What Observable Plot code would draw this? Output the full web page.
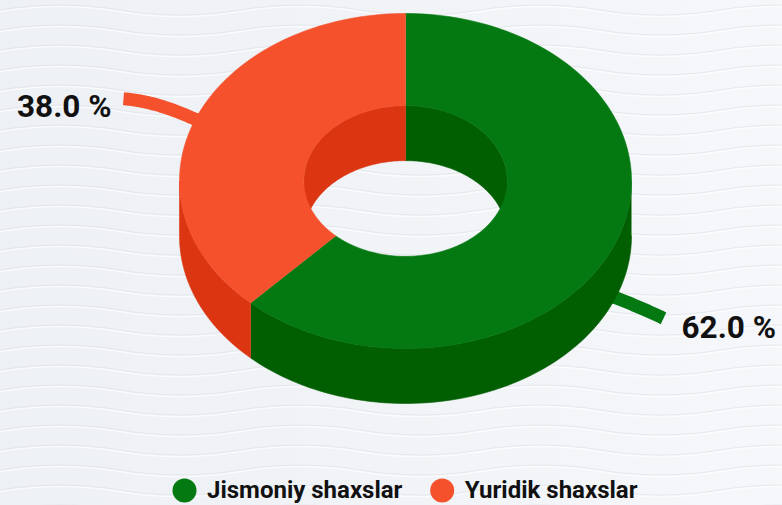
<!DOCTYPE html>
<html>
<head>
<meta charset="utf-8">
<script src="https://cdn.jsdelivr.net/npm/d3@7"></script>
<script src="https://cdn.jsdelivr.net/npm/@observablehq/plot@0.6"></script>
<style>
html, body { margin: 0; padding: 0; overflow: hidden; }
body { width: 782px; height: 505px; background-color: #f0f3f7; }
#chart svg { display: block; }
</style>
</head>
<body>
<div id="chart"></div>
<script>
// ---- data ----
const categories = ["Jismoniy shaxslar", "Yuridik shaxslar"];
const values = [62.0, 38.0];

// ---- styles ----
const topColors = ["#047911", "#f5512d"];
const sideColors = ["#015e01", "#dc3512"];
const textColor = "#111111";

// ---- layout ----
const W = 782, H = 505;
const L = {
  cx: 405, cy: 180.5, rx: 226, ry: 167.5, depth: 55, inner: 0.45, steps: 220,
  leaderEndX: {left: 123, right: 663},
  leaderRise: 56,
  leaderBend: {left: 0.12, right: 0.5},
  leaderWidth: 13,
  labelGap: {left: 12, right: 18},
  labelDy: {left: 8, right: 10},
  labelSize: 31.5,
  legendY: 490, legendX: [184, 441.7], legendR: 12, legendGap: 22.5, legendSize: 24
};

// background waves (decorative)
(function () {
  const svg = `<svg xmlns='http://www.w3.org/2000/svg' width='240' height='20'>` +
    `<path d='M0,10 Q60,0 120,10 T240,10' fill='none' stroke='#d6dae0' stroke-width='1.2' opacity='0.5'/>` +
    `<path d='M0,11.6 Q60,1.6 120,11.6 T240,11.6' fill='none' stroke='#ffffff' stroke-width='1.2' opacity='0.7'/></svg>`;
  document.body.style.backgroundImage =
    `url("data:image/svg+xml,${encodeURIComponent(svg)}"), linear-gradient(to right, #edf0f4, #f5f7fa)`;
})();

const TAU = 2 * Math.PI;
const total = d3.sum(values);
let acc = 0;
const slices = values.map((v, i) => {
  const a0 = acc / total * TAU; acc += v; const a1 = acc / total * TAU;
  return {i, name: categories[i], value: v, a0, a1, mid: (a0 + a1) / 2};
});

function pt(t, r, dz) {
  return {x: L.cx + L.rx * r * Math.sin(t), y: L.cy - L.ry * r * Math.cos(t) + dz};
}
function arc(t0, t1, r, dz) {
  const n = Math.max(2, Math.ceil(Math.abs(t1 - t0) / TAU * L.steps));
  return d3.range(n + 1).map(j => pt(t0 + (t1 - t0) * j / n, r, dz));
}
function intersect(a0, a1, b0, b1) {
  const out = [];
  for (const off of [-TAU, 0, TAU]) {
    const s = Math.max(a0, b0 + off), e = Math.min(a1, b1 + off);
    if (e > s + 1e-9) out.push([s, e]);
  }
  return out;
}
function poly(points, color) {
  return Plot.line(points, {x: "x", y: "y", fill: color, stroke: color, strokeWidth: 0.6, curve: "linear"});
}

const marks = [];

// leader lines (behind the donut)
for (const s of slices) {
  const front = Math.cos(s.mid) < 0;
  const start = pt(s.mid, 1, front ? L.depth : 0);
  const side = Math.sin(s.mid) < 0 ? "left" : "right";
  const end = {x: L.leaderEndX[side], y: start.y - L.leaderRise * Math.cos(s.mid)};
  const startIn = pt(s.mid, 0.93, front ? L.depth : 0);
  const c = {x: end.x + (start.x - end.x) * 0.45, y: end.y + (start.y - end.y) * L.leaderBend[side]};
  const pts = d3.range(41).map(j => {
    const t = j / 40;
    return {x: (1 - t) * (1 - t) * start.x + 2 * t * (1 - t) * c.x + t * t * end.x,
            y: (1 - t) * (1 - t) * start.y + 2 * t * (1 - t) * c.y + t * t * end.y};
  });
  pts.unshift(startIn);
  s.side = side; s.end = end;
  marks.push(Plot.line(pts, {x: "x", y: "y", stroke: topColors[s.i], strokeWidth: L.leaderWidth,
    strokeLinecap: "butt", strokeLinejoin: "round", curve: "linear"}));
}

// outer side walls (front half)
for (const s of slices) {
  for (const [b0, b1] of intersect(s.a0, s.a1, Math.PI / 2, 3 * Math.PI / 2)) {
    marks.push(poly([...arc(b0, b1, 1, 0), ...arc(b1, b0, 1, L.depth)], sideColors[s.i]));
  }
}
// inner walls (back half, seen through the hole)
for (const s of slices) {
  for (const [b0, b1] of intersect(s.a0, s.a1, -Math.PI / 2, Math.PI / 2)) {
    marks.push(poly([...arc(b0, b1, L.inner, 0), ...arc(b1, b0, L.inner, L.depth)], sideColors[s.i]));
  }
}
// top faces
for (const s of slices) {
  marks.push(poly([...arc(s.a0, s.a1, 1, 0), ...arc(s.a1, s.a0, L.inner, 0)], topColors[s.i]));
}

// value labels
for (const s of slices) {
  const left = s.side === "left";
  marks.push(Plot.text([s], {
    x: d => left ? d.end.x - L.labelGap.left : d.end.x + L.labelGap.right,
    y: d => d.end.y + L.labelDy[d.side],
    text: d => `${d.value.toFixed(1)} %`,
    textAnchor: left ? "end" : "start",
    fontSize: L.labelSize, fontWeight: "bold", fontFamily: "Roboto", fill: textColor
  }));
}

// legend
for (const s of slices) {
  marks.push(Plot.dot([s], {x: () => L.legendX[s.i], y: () => L.legendY, r: L.legendR, fill: topColors[s.i], stroke: "none"}));
  marks.push(Plot.text([s], {x: () => L.legendX[s.i] + L.legendGap, y: () => L.legendY, text: "name",
    textAnchor: "start", fontSize: L.legendSize, fontWeight: "bold", fontFamily: "Roboto", fill: textColor}));
}

const chart = Plot.plot({
  width: W, height: H, margin: 0,
  x: {domain: [0, W], range: [0, W], axis: null},
  y: {domain: [0, H], range: [0, H], axis: null},
  style: {background: "transparent", fontFamily: "Roboto", overflow: "visible"},
  marks
});
document.getElementById("chart").append(chart);
</script>
</body>
</html>
